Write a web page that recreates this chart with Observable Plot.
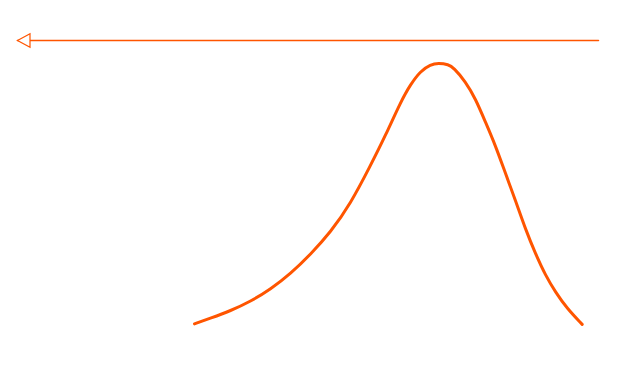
<!DOCTYPE html>
<html>
<head>
<meta charset="utf-8">
<script src="https://cdn.jsdelivr.net/npm/d3@7"></script>
<script src="https://cdn.jsdelivr.net/npm/@observablehq/plot@0.6"></script>
<style>
  body { margin: 0; background: #fff; }
</style>
</head>
<body>
<div id="chart"></div>
<script>
// Curve values (x in 0..100 units, y relative density)
const curveX = [30.46, 33.22, 36.66, 40.10, 43.55, 46.99, 50.43, 53.87, 57.31, 60.76, 63.34, 65.92, 67.64, 69.36, 71.08, 72.46, 74.18, 75.04, 77.11, 78.83, 80.55, 82.27, 83.99, 85.71, 87.44, 89.16, 90.88, 92.60, 94.61, 97.19];
const curveY = [0.025, 0.046, 0.074, 0.109, 0.155, 0.213, 0.286, 0.369, 0.476, 0.620, 0.733, 0.858, 0.925, 0.975, 1.000, 1.005, 1.000, 0.988, 0.936, 0.871, 0.783, 0.695, 0.590, 0.489, 0.380, 0.288, 0.207, 0.144, 0.082, 0.023];

// Arrow from right to left at the top
const arrowX = [100, 0];
const arrowY = [1.09, 1.09];

const color = "#ff5500";

const curve = curveX.map((x, i) => ({x, y: curveY[i]}));
const arrowLine = arrowX.map((x, i) => ({x, y: arrowY[i]}));
const arrowHead = [{x: arrowX[1], y: arrowY[1]}];

const leftTriangle = {
  draw(context, size) {
    context.moveTo(0, 0);
    context.lineTo(12.5, -6.7);
    context.lineTo(12.5, 6.7);
    context.closePath();
  }
};

const chart = Plot.plot({
  width: 629,
  height: 383,
  marginLeft: 17,
  marginRight: 31,
  marginTop: 40,
  marginBottom: 53,
  x: {domain: [0, 100], axis: null},
  y: {domain: [0, 1.09], axis: null},
  marks: [
    Plot.line(arrowLine, {x: "x", y: "y", stroke: color, strokeWidth: 1.5}),
    Plot.dot(arrowHead, {x: "x", y: "y", symbol: leftTriangle, fill: "white", stroke: color, strokeWidth: 1.2, r: 5}),
    Plot.line(curve, {x: "x", y: "y", curve: "basis", stroke: color, strokeWidth: 3})
  ]
});
document.getElementById("chart").appendChild(chart);
</script>
</body>
</html>
